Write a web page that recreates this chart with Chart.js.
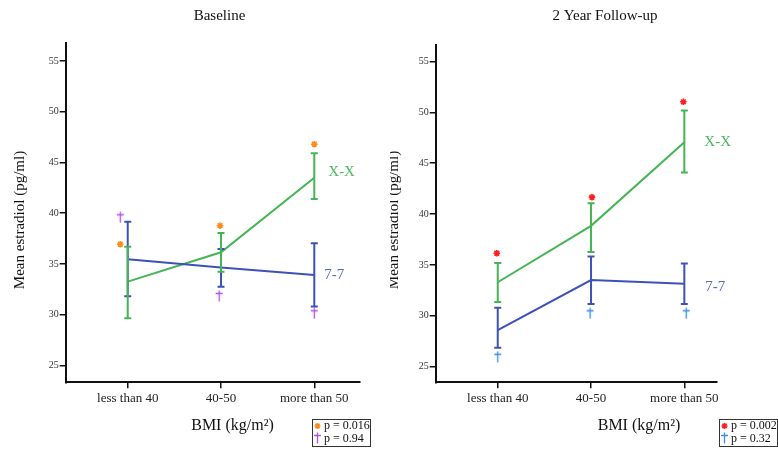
<!DOCTYPE html>
<html><head><meta charset="utf-8">
<script src="https://cdn.jsdelivr.net/npm/chart.js@4.4.0/dist/chart.umd.min.js"></script>
<style>
html,body{margin:0;padding:0;background:#fff;overflow:hidden}
#wrap{position:relative;width:778px;height:451px}
canvas{position:absolute;top:0}
#cBase{left:0}
#cFollow{left:390px}
</style></head><body>
<div id="wrap"><canvas id="cBase" width="390" height="451"></canvas><canvas id="cFollow" width="388" height="451"></canvas></div>
<script>
const bmiGroups = ['less than 40', '40-50', 'more than 50'];
const yTicks = [25, 30, 35, 40, 45, 50, 55];

// Baseline panel
const baseXX = [33.26, 36.15, 43.5];
const baseXXLow = [29.65, 34.24, 41.4];
const baseXXHigh = [36.7, 38.05, 45.9];
const base77 = [35.46, 34.64, 33.92];
const base77Low = [31.82, 32.76, 30.8];
const base77High = [39.17, 36.48, 37.04];
const baseStarX = [-0.08, 0.99, 2];
const baseStarY = [36.94, 38.77, 46.8];
const baseDaggerX = [-0.08, 0.98, 2];
const baseDaggerY = [39.6, 31.85, 30.14];
const baseLegend = ['p = 0.016', 'p = 0.94'];

// 2 year follow-up panel
const followXX = [33.3, 38.84, 47.06];
const followXXLow = [31.36, 36.28, 44.08];
const followXXHigh = [35.2, 41.07, 50.17];
const follow77 = [28.6, 33.52, 33.16];
const follow77Low = [26.87, 31.17, 31.17];
const follow77High = [30.8, 35.82, 35.13];
const followStarX = [-0.01, 1.01, 1.99];
const followStarY = [36.15, 41.66, 51.03];
const followDaggerX = [0, 0.99, 2.02];
const followDaggerY = [25.98, 30.25, 30.25];
const followLegend = ['p = 0.002', 'p = 0.32'];

const GREEN = '#45b553', BLUE = '#3d52b8';
const SERIF = '"Liberation Serif", "Times New Roman", serif';

function pts(xs, ys){ return ys.map((v, i) => ({ x: xs ? xs[i] : i, y: v })); }

function daggerImg(color){
  const c = document.createElement('canvas');
  c.width = 9; c.height = 12;
  const g = c.getContext('2d');
  g.strokeStyle = color; g.lineWidth = 1.3;
  g.beginPath(); g.moveTo(4.5, 0.5); g.lineTo(4.5, 11.5); g.moveTo(1, 3.5); g.lineTo(8, 3.5); g.stroke();
  return c;
}

function drawStar(ctx, x, y, r, color){
  ctx.save(); ctx.strokeStyle = color; ctx.lineWidth = 1.6; ctx.beginPath();
  for (let k = 0; k < 4; k++) {
    const a = k * Math.PI / 4;
    ctx.moveTo(x - r * Math.cos(a), y - r * Math.sin(a));
    ctx.lineTo(x + r * Math.cos(a), y + r * Math.sin(a));
  }
  ctx.stroke(); ctx.restore();
}

const errorBars = {
  id: 'errorBars',
  afterDatasetsDraw(chart){
    const { ctx, scales: { x, y } } = chart;
    chart.data.datasets.forEach(ds => {
      if (!ds.errLow) return;
      ctx.save(); ctx.strokeStyle = ds.borderColor; ctx.lineWidth = 2;
      ds.errLow.forEach((lo, i) => {
        const px = x.getPixelForValue(i), y1 = y.getPixelForValue(lo), y2 = y.getPixelForValue(ds.errHigh[i]);
        ctx.beginPath();
        ctx.moveTo(px, y1); ctx.lineTo(px, y2);
        ctx.moveTo(px - 3.5, y1); ctx.lineTo(px + 3.5, y1);
        ctx.moveTo(px - 3.5, y2); ctx.lineTo(px + 3.5, y2);
        ctx.stroke();
      });
      ctx.restore();
    });
  }
};

function panelText(cfg){
  return {
    id: 'panelText',
    afterDraw(chart){
      const { ctx, scales: { x, y } } = chart;
      ctx.save();
      ctx.fillStyle = '#111'; ctx.textAlign = 'center'; ctx.textBaseline = 'middle';
      ctx.font = '15px ' + SERIF; ctx.fillText(cfg.title, cfg.titleX, 16);
      ctx.font = '16px ' + SERIF; ctx.fillText('BMI (kg/m²)', cfg.xTitleX, 426);
      ctx.save(); ctx.translate(cfg.yTitleX, 220); ctx.rotate(-Math.PI / 2);
      ctx.font = '15px ' + SERIF; ctx.fillText('Mean estradiol (pg/ml)', 0, 0); ctx.restore();
      // end labels
      ctx.textAlign = 'left'; ctx.font = '15px ' + SERIF;
      chart.data.datasets.forEach(ds => {
        if (!ds.endLabel) return;
        const last = ds.data[ds.data.length - 1];
        ctx.fillStyle = ds.labelColor;
        ctx.fillText(ds.endLabel, x.getPixelForValue(last.x) + ds.labelDx, y.getPixelForValue(last.y) + ds.labelDy);
      });
      // p-value box
      const bx = cfg.boxX;
      ctx.strokeStyle = '#333'; ctx.lineWidth = 1;
      ctx.strokeRect(bx + 0.5, 419.5, 58, 27);
      drawStar(ctx, bx + 5.5, 426, 3, cfg.starColor);
      ctx.drawImage(cfg.dagger, bx + 1, 432);
      ctx.fillStyle = '#111'; ctx.font = '12px ' + SERIF;
      ctx.fillText(cfg.legend[0], bx + 12, 426);
      ctx.fillText(cfg.legend[1], bx + 12, 438.5);
      ctx.restore();
    }
  };
}

function makeChart(id, p){
  const dagger = daggerImg(p.daggerColor);
  const axisGrid = { display: true, drawOnChartArea: false, drawTicks: true, tickLength: 6, color: '#111', lineWidth: 1.5 };
  const axisBorder = { display: true, color: '#111', width: 2 };
  return new Chart(document.getElementById(id), {
    type: 'line',
    data: { datasets: [
      { data: pts(null, p.m77), borderColor: BLUE, borderWidth: 2, pointRadius: 0, tension: 0,
        errLow: p.lo77, errHigh: p.hi77, endLabel: '7-7', labelColor: '#5468c8', labelDx: p.d77[0], labelDy: p.d77[1] },
      { data: pts(null, p.mXX), borderColor: GREEN, borderWidth: 2, pointRadius: 0, tension: 0,
        errLow: p.loXX, errHigh: p.hiXX, endLabel: 'X-X', labelColor: '#4cb85a', labelDx: p.dXX[0], labelDy: p.dXX[1] },
      { data: pts(p.starX, p.starY), showLine: false, pointStyle: 'star', pointRadius: 3.3, pointBorderWidth: 1.6,
        pointBorderColor: p.starColor, pointBackgroundColor: p.starColor },
      { data: pts(p.daggerX, p.daggerY), showLine: false, pointStyle: dagger, pointRadius: 5 }
    ] },
    options: {
      responsive: false, animation: false, events: [],
      layout: { padding: { top: p.top, right: p.right, bottom: 0, left: 0 } },
      plugins: { legend: { display: false }, tooltip: { enabled: false } },
      scales: {
        x: { type: 'linear', min: -0.665, max: p.xMax,
          afterFit(s){ s.height = 68.7; },
          afterBuildTicks(s){ s.ticks = bmiGroups.map((_, i) => ({ value: i })); },
          ticks: { callback: (v, i) => bmiGroups[i], padding: 2, color: '#222', autoSkip: false, maxRotation: 0, font: { family: SERIF, size: 13 } },
          grid: axisGrid, border: axisBorder },
        y: { type: 'linear', min: p.yMin, max: p.yMax,
          afterFit(s){ s.width = p.yW; },
          afterBuildTicks(s){ s.ticks = yTicks.map(v => ({ value: v })); },
          ticks: { padding: 1, color: '#333', font: { family: SERIF, size: 10 } },
          grid: axisGrid, border: axisBorder }
      }
    },
    plugins: [errorBars, panelText({ title: p.title, titleX: p.titleX, xTitleX: p.xTitleX, yTitleX: p.yTitleX,
      boxX: p.boxX, starColor: p.starColor, dagger, legend: p.legend })]
  });
}

makeChart('cBase', {
  title: 'Baseline', titleX: 219.5, xTitleX: 232.5, yTitleX: 20, boxX: 312,
  mXX: baseXX, loXX: baseXXLow, hiXX: baseXXHigh, m77: base77, lo77: base77Low, hi77: base77High,
  starX: baseStarX, starY: baseStarY, daggerX: baseDaggerX, daggerY: baseDaggerY,
  starColor: '#ff8c1a', daggerColor: '#b44fe6', legend: baseLegend,
  dXX: [14, -6], d77: [10, 0],
  top: 43, right: 30, yW: 65.7, xMax: 2.49, yMin: 23.34, yMax: 56.77
});

makeChart('cFollow', {
  title: '2 Year Follow-up', titleX: 215, xTitleX: 249, yTitleX: 4, boxX: 329,
  mXX: followXX, loXX: followXXLow, hiXX: followXXHigh, m77: follow77, lo77: follow77Low, hi77: follow77High,
  starX: followStarX, starY: followStarY, daggerX: followDaggerX, daggerY: followDaggerY,
  starColor: '#ff2020', daggerColor: '#3a8ee0', legend: followLegend,
  dXX: [20, 0], d77: [21, 3],
  top: 45, right: 61.3, yW: 45.7, xMax: 2.347, yMin: 23.47, yMax: 56.61
});
</script>
</body></html>
